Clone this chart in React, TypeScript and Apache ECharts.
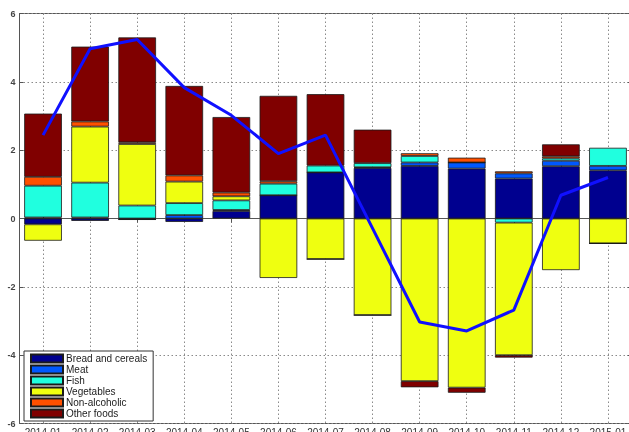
import React, { useEffect, useRef } from "react";
import * as echarts from "echarts";

const categories = [
  "2014-01", "2014-02", "2014-03", "2014-04", "2014-05", "2014-06", "2014-07",
  "2014-08", "2014-09", "2014-10", "2014-11", "2014-12", "2015-01",
];

const seriesNames = ["Bread and cereals", "Meat", "Fish", "Vegetables", "Non-alcoholic", "Other foods"];

const bread = [-0.17, -0.07, -0.03, -0.1, 0.22, 0.68, 1.35, 1.48, 1.54, 1.46, 1.17, 1.53, 1.41];
const meat = [0.03, 0.03, 0, 0.1, 0.03, 0, 0, 0.02, 0.1, 0.18, 0.15, 0.16, 0.13];
const fish = [0.93, 1.02, 0.38, 0.35, 0.28, 0.34, 0.2, 0.12, 0.19, 0, -0.12, 0.07, 0.53];
const vegetables = [-0.48, 1.64, 1.8, 0.63, 0.12, -1.74, -1.19, -2.83, -4.76, -4.95, -3.88, -1.51, -0.73];
const nonAlcoholic = [0.26, 0.15, 0.05, 0.18, 0.11, 0.07, 0, 0, 0.08, 0.14, 0.06, 0.06, 0];
const otherFoods = [1.85, 2.19, 3.07, 2.62, 2.21, 2.5, 2.09, 0.98, -0.18, -0.15, -0.07, 0.35, 0];

const total = [2.44, 4.97, 5.24, 3.83, 3.02, 1.9, 2.44, -0.29, -3.03, -3.29, -2.68, 0.68, 1.2];

const yMin = -6;
const yMax = 6;
const yStep = 2;

const colors = ["#00008F", "#0058FF", "#20FFDF", "#EFFF10", "#FF5000", "#800000"];

export default function App() {
  const ref = useRef<HTMLDivElement>(null);
  useEffect(() => {
    if (!ref.current) return;
    const chart = echarts.init(ref.current, null, { renderer: "svg" });
    const font = "Liberation Sans, Arial, sans-serif";
    const stacks = [bread, meat, fish, vegetables, nonAlcoholic, otherFoods];
    const gridLine = { show: true, lineStyle: { color: "#8a8a8a", type: [1.5, 2.5] as any, width: 1 } };
    chart.setOption({
      animation: false,
      textStyle: { fontFamily: font },
      grid: {
        left: 19.5,
        top: 13.5,
        width: 612,
        height: 410,
        show: true,
        borderColor: "#555",
        borderWidth: 1,
        containLabel: false,
        outerBoundsMode: "none",
      },
      legend: {
        orient: "vertical",
        left: 24,
        top: 351,
        data: seriesNames,
        itemWidth: 32,
        itemHeight: 8,
        itemGap: 0,
        padding: [2, 6, 2, 6],
        backgroundColor: "#fff",
        borderColor: "#333",
        borderWidth: 1,
        icon: "rect",
        textStyle: { fontSize: 10, lineHeight: 11, color: "#222", fontFamily: font, padding: [0, 0, 0, -2] },
        selectedMode: false,
      },
      xAxis: [
        {
          type: "category",
          data: categories,
          position: "bottom",
          axisLine: { show: true, lineStyle: { color: "#555", width: 1 } },
          axisTick: { show: true, inside: true, alignWithLabel: true, length: 4, lineStyle: { color: "#555" } },
          axisLabel: { fontSize: 10, color: "#333", margin: 4, fontFamily: font, interval: 0 },
          splitLine: { ...gridLine, alignWithLabel: true } as any,
        },
        {
          type: "category",
          data: categories,
          position: "top",
          axisLine: { show: true, lineStyle: { color: "#555", width: 1 } },
          axisTick: { show: true, inside: true, alignWithLabel: true, length: 4, lineStyle: { color: "#555" } },
          axisLabel: { show: false },
          splitLine: { show: false },
        },
      ],
      yAxis: [
        {
          type: "value",
          min: yMin,
          max: yMax,
          interval: yStep,
          axisLine: { show: true, lineStyle: { color: "#555", width: 1 } },
          axisTick: { show: true, inside: true, length: 4, lineStyle: { color: "#555" } },
          axisLabel: { fontSize: 9, fontWeight: "bold", color: "#444", margin: 4, fontFamily: font },
          splitLine: gridLine,
        },
        {
          type: "value",
          min: yMin,
          max: yMax,
          interval: yStep,
          position: "right",
          axisLine: { show: true, lineStyle: { color: "#555", width: 1 } },
          axisTick: { show: true, inside: true, length: 4, lineStyle: { color: "#555" } },
          axisLabel: { show: false },
          splitLine: { show: false },
        },
      ],
      series: [
        ...stacks.map((d, i) => ({
          name: seriesNames[i],
          type: "bar",
          stack: "food",
          data: d,
          barWidth: "80%",
          itemStyle: { color: colors[i], borderColor: "#1a1a1a", borderWidth: 0.8 },
          emphasis: { disabled: true },
        })),
        {
          name: "Total",
          type: "line",
          data: total,
          showSymbol: false,
          symbol: "none",
          z: 10,
          lineStyle: { color: "#1010FF", width: 3 },
          emphasis: { disabled: true },
        },
      ],
    });
    return () => chart.dispose();
  }, []);
  return <div ref={ref} style={{ position: "fixed", left: 0, top: 0, width: 629, height: 432 }} />;
}
